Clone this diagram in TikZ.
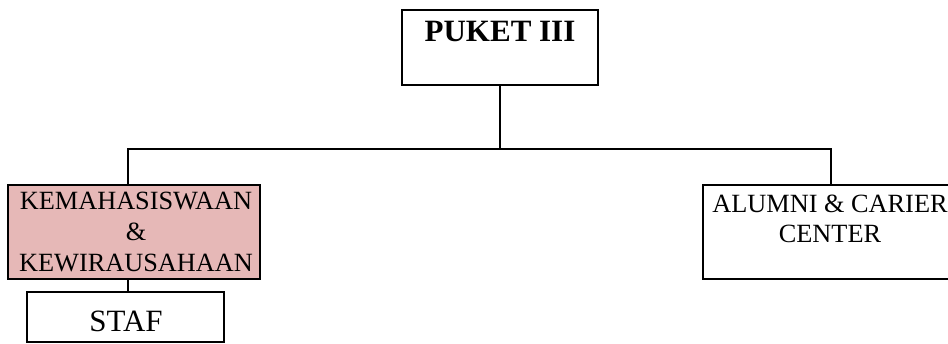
\documentclass[tikz,border=0pt]{standalone}
\usepackage{fontspec}
\setmainfont{Liberation Serif}
\definecolor{kempink}{HTML}{E6B8B7}
\begin{document}
\begin{tikzpicture}[x=1pt,y=-1pt,
  box/.style={draw=black,line width=1.5pt,rectangle,inner sep=0pt,outer sep=0pt},
  txt/.style={inner sep=0pt,outer sep=0pt,align=center},
  conn/.style={draw=black,line width=1.5pt}]
\useasboundingbox (0,0) rectangle (948,344);
\clip (0,0) rectangle (948,344);
\fill[white] (0,0) rectangle (948,344);
% boxes
\node[box,minimum width=196pt,minimum height=75pt] (puket) at (500,47.5) {};
\node[box,fill=kempink,minimum width=252pt,minimum height=94pt] (kem) at (134,232) {};
\node[box,minimum width=197pt,minimum height=50pt] (staf) at (125.5,317) {};
\node[box,minimum width=257pt,minimum height=94pt] (alumni) at (831.5,232) {};
% texts
\node[txt,anchor=base,font=\fontsize{31}{34}\selectfont\bfseries] (tpuket) at (500,42) {PUKET III};
\node[txt,font=\fontsize{26.3}{31}\selectfont] (tkem) at (136,232.4) {KEMAHASISWAAN\\\&\\KEWIRAUSAHAAN};
\node[txt,anchor=base,font=\fontsize{31}{34}\selectfont] (tstaf) at (126,332) {STAF};
\node[txt,font=\fontsize{26.3}{30}\selectfont] (talumni) at (830,218.4) {ALUMNI \& CARIER\\CENTER};
% connectors
\coordinate (hl) at (128,149);
\coordinate (hr) at (831,149);
\draw[conn] (puket.south) -- (puket.south |- hl);
\draw[conn] (kem.north -| hl) -- (hl) -- (hr) -- (alumni.north -| hr);
\draw[conn] (kem.south -| hl) -- (staf.north -| hl);
\end{tikzpicture}
\end{document}
